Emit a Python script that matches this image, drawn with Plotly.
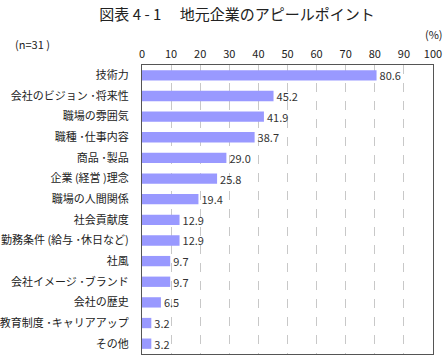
import plotly.graph_objects as go

categories = ["技術力", "会社のビジョン ･将来性", "職場の雰囲気", "職種 ･仕事内容", "商品 ･製品",
              "企業 (経営 )理念", "職場の人間関係", "社会貢献度", "勤務条件 (給与 ･休日など)",
              "社風", "会社イメージ ･ブランド", "会社の歴史", "教育制度 ･キャリアアップ", "その他"]
values = [80.6, 45.2, 41.9, 38.7, 29.0, 25.8, 19.4, 12.9, 12.9, 9.7, 9.7, 6.5, 3.2, 3.2]
x_ticks = list(range(0, 101, 10))

font_family = "Noto Sans CJK JP"

fig = go.Figure(go.Bar(
    x=values, y=categories, orientation="h",
    marker=dict(color="#9999FF", line=dict(width=0)),
    width=0.5,
    text=[f"{v:.1f}" for v in values], textposition="outside",
    constraintext="none",
    textfont=dict(size=11, color="#333333", family=font_family),
    cliponaxis=False,
))

fig.update_layout(
    width=443, height=355,
    margin=dict(l=142, r=10, t=65, b=1),
    paper_bgcolor="white", plot_bgcolor="white",
    font=dict(family=font_family, size=11, color="#222222"),
    title=dict(text="図表 4 - 1　 地元企業のアピールポイント", x=0.535, xanchor="center", y=0.958, yanchor="middle",
               font=dict(size=15, color="#222222", family=font_family)),
    showlegend=False,
    annotations=[
        dict(text="(n=31 )", x=32, y=44, xref="paper", yref="paper", showarrow=False),
        dict(text="(%)", x=434, y=34, xref="paper", yref="paper", showarrow=False, font=dict(size=11)),
    ],
)
# convert pixel positions to paper coordinates
pw, ph = 443 - 142 - 10, 355 - 65 - 1
for a in fig.layout.annotations:
    px, py = a.x, a.y
    a.update(x=(px - 142) / pw, y=(355 - 1 - py) / ph, xanchor="center", yanchor="middle")

fig.update_xaxes(side="top", range=[0, 100], tickvals=x_ticks, ticktext=[str(t) for t in x_ticks],
                 showgrid=True, gridcolor="#c8c8c8", griddash="dash", gridwidth=1,
                 showline=True, linecolor="#555555", linewidth=1, mirror=True,
                 ticks="", ticklen=0, tickfont=dict(size=11), zeroline=False,
                 ticklabelstandoff=2)
fig.update_yaxes(autorange="reversed", showline=True, linecolor="#555555", linewidth=1, mirror=True,
                 ticks="", tickfont=dict(size=11), ticklabelstandoff=10)

fig.write_html("out.html")
